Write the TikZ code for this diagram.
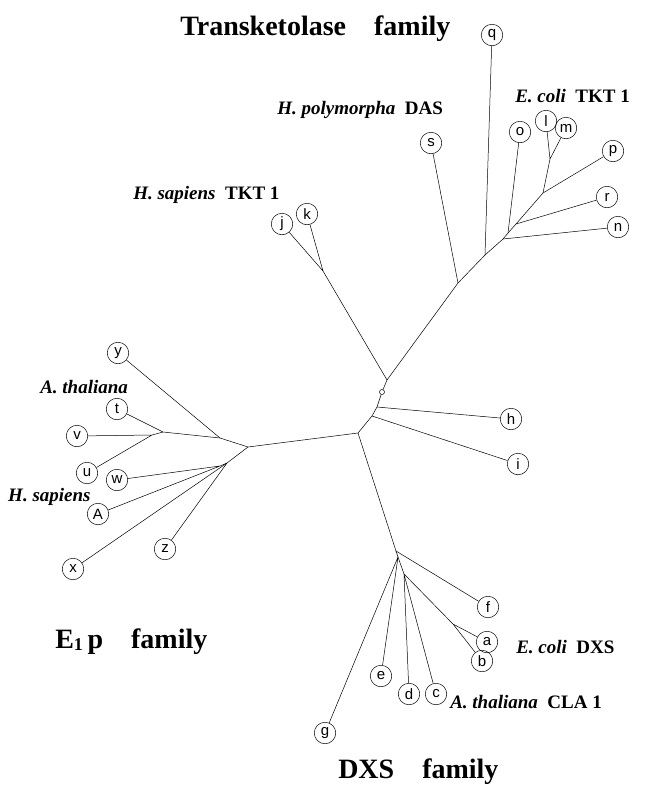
\documentclass[tikz,border=0pt]{standalone}
\usepackage{fontspec}
\setmainfont{Liberation Serif}
\newfontfamily\leaffont{Liberation Sans}
\newcommand*{\famsize}{\fontsize{28}{30}\selectfont\bfseries}
\newcommand*{\orgsize}{\fontsize{19}{21}\selectfont\bfseries}
\newcommand*{\leafsize}{\leaffont\fontsize{15}{15}\selectfont}

\begin{document}
\begin{tikzpicture}[x=1pt, y=-1pt, line width=0.5pt,
    leaf/.style={draw, circle, minimum size=21.5pt, inner sep=0pt, font=\leafsize},
    fam/.style={anchor=base west, font=\famsize, inner sep=0pt},
    org/.style={anchor=base west, font=\orgsize, inner sep=0pt}]
    \useasboundingbox (0,0) rectangle (647,788);
        % family and organism labels
        \node [fam] (tkfam) at (180,35) {Transketolase\quad family};
        \node [fam] (epfam) at (55,648) {E\raisebox{-2pt}{\fontsize{18}{18}\selectfont 1}\,p\quad family};
        \node [fam] (dxfam) at (338,778) {DXS\quad family};
        \node [org] (hpol) at (277,114) {\textit{H. polymorpha}\enspace DAS};
        \node [org] (ecotk) at (515,102) {\textit{E. coli}\enspace TKT 1};
        \node [org] (hsatk) at (133,199) {\textit{H. sapiens}\enspace TKT 1};
        \node [org] (athep) at (40,393) {\textit{A. thaliana}};
        \node [org] (hsaep) at (8,501) {\textit{H. sapiens}};
        \node [org] (ecodx) at (516,653) {\textit{E. coli}\enspace DXS};
        \node [org] (athdx) at (450,708) {\textit{A. thaliana}\enspace CLA 1};
        % leaves
        \node [leaf] (q) at (492,35) {q};
        \node [leaf] (s) at (431,143) {s};
        \node [leaf] (o) at (520,132) {o};
        \node [leaf] (l) at (546,121) {l};
        \node [leaf] (m) at (566,128) {m};
        \node [leaf] (p) at (613,151) {p};
        \node [leaf] (r) at (607,197) {r};
        \node [leaf] (n) at (618,227) {n};
        \node [leaf] (j) at (282,224) {j};
        \node [leaf] (k) at (307,214) {k};
        \node [leaf] (h) at (511,419) {h};
        \node [leaf] (i) at (518,464) {i};
        \node [leaf] (f) at (488,607) {f};
        \node [leaf] (a) at (487,642) {a};
        \node [leaf] (b) at (482,661) {b};
        \node [leaf] (e) at (381,676) {e};
        \node [leaf] (d) at (409,694) {d};
        \node [leaf] (c) at (436,694) {c};
        \node [leaf] (g) at (325,733) {g};
        \node [leaf] (y) at (118,353) {y};
        \node [leaf] (t) at (117,409) {t};
        \node [leaf] (v) at (77,436) {v};
        \node [leaf] (u) at (87,473) {u};
        \node [leaf] (w) at (117,480) {w};
        \node [leaf] (A) at (98,514) {A};
        \node [leaf] (z) at (165,549) {z};
        \node [leaf] (x) at (73,569) {x};
        % branch points
        \node [draw, circle, inner sep=0pt, minimum size=5pt] (root) at (382,392) {};
        \coordinate (tk0) at (387,380);
        \coordinate (tkj) at (323,271);
        \coordinate (tk1) at (458,283);
        \coordinate (tk2) at (485,255);
        \coordinate (tk3) at (503,239);
        \coordinate (tk4) at (508,233);
        \coordinate (tk5) at (516,224);
        \coordinate (tk6) at (543,193);
        \coordinate (tk7) at (550,159);
        \coordinate (dx0) at (377,407);
        \coordinate (dx1) at (372,416);
        \coordinate (dx2) at (358,433);
        \coordinate (dx3) at (396,551);
        \coordinate (dx4) at (398,557);
        \coordinate (dx5) at (404,574);
        \coordinate (dx6) at (453,624);
        \coordinate (ep0) at (248,447);
        \coordinate (ep1) at (220,438);
        \coordinate (ep2) at (163,432);
        \coordinate (ep3) at (152,435);
        \coordinate (ep4) at (227,463);
        \coordinate (ep5) at (220,466);
        % transketolase branches
        \draw (tk0) -- (tkj) (tkj) -- (j) (tkj) -- (k);
        \draw (tk0) -- (tk1) -- (tk2) -- (tk3) -- (tk4) -- (tk5) -- (tk6) -- (p);
        \draw (tk1) -- (s) (tk2) -- (q) (tk3) -- (n) (tk4) -- (o) (tk5) -- (r);
        \draw (tk6) -- (tk7) (tk7) -- (l) (tk7) -- (m);
        % trunk
        \draw (tk0) -- (root) -- (dx0) -- (dx1) -- (dx2);
        \draw (dx0) -- (h) (dx1) -- (i);
        % DXS branches
        \draw (dx2) -- (dx3) -- (dx4) -- (dx5) -- (dx6);
        \draw (dx3) -- (f) (dx4) -- (g) (dx4) -- (e) (dx5) -- (d) (dx5) -- (c);
        \draw (dx6) -- (a) (dx6) -- (b);
        % E1p branches
        \draw (dx2) -- (ep0) -- (ep1) -- (ep2) -- (ep3);
        \draw (ep1) -- (y) (ep2) -- (t) (ep3) -- (v) (ep3) -- (u);
        \draw (ep0) -- (ep4) -- (ep5);
        \draw (ep4) -- (z) (ep4) -- (x) (ep5) -- (w) (ep5) -- (A);
    \end{tikzpicture}
\end{document}
